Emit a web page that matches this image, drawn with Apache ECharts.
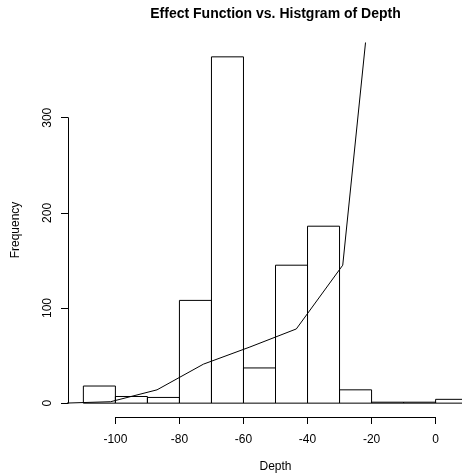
<!DOCTYPE html>
<html><head><meta charset="utf-8">
<script src="https://cdn.jsdelivr.net/npm/echarts@6/dist/echarts.min.js"></script>
<style>html,body{margin:0;padding:0;background:#fff}#c{width:462px;height:473px}</style>
</head><body><div id="c"></div>
<script>
// Histogram bins (left edges) and counts
const binStarts = [-110,-100,-90,-80,-70,-60,-50,-40,-30,-20,-10,0];
const binWidth = 10;
const counts = [18,7,6,108,364,37,145,186,14,1,1,4];
// Effect function line
const effectX = [-116,-101.5,-87,-72.5,-58,-43.5,-29,-14.5];
const effectY = [0,1.5,14,41,59,78,145,622];
// Tick labels
const xTicks = [-100,-80,-60,-40,-20,0];
const yTicks = [0,100,200,300];

const FONT = 'Liberation Sans, Arial, Helvetica, sans-serif';
const chart = echarts.init(document.getElementById('c'), null, {renderer:'canvas'});

const fullLeft = 68, fullWidth = 415;
const xMin = -114.8, xFullMax = 14.8, yMin = -14.56, yMax = 378.56;
const pxX = fullWidth/(xFullMax-xMin);
const plot = {left:fullLeft, top:43, width:462-fullLeft, height:374};
const xMax = xMin + plot.width/pxX;
const pxY = plot.height/(yMax-yMin);
const xAxisGrid = {left: plot.left + (xTicks[0]-xMin)*pxX, width:(xTicks[xTicks.length-1]-xTicks[0])*pxX, top:plot.top, height:plot.height};
const yAxisGrid = {left: plot.left, width: plot.width,
  top: plot.top + (yMax - yTicks[yTicks.length-1])*pxY,
  height: (yTicks[yTicks.length-1]-yTicks[0])*pxY};
const gridBase = {containLabel:false, outerBoundsMode:'none'};

const axisBase = {
  axisLine:{show:true, lineStyle:{color:'#000', width:1}},
  axisTick:{show:true, length:7, inside:false, lineStyle:{color:'#000', width:1}},
  splitLine:{show:false}
};

chart.setOption({
  animation:false,
  backgroundColor:'#fff',
  title:{text:'Effect Function vs. Histgram of Depth', left: fullLeft+fullWidth/2, textAlign:'center', top:7, padding:0,
    textStyle:{fontFamily:FONT, fontSize:14, fontWeight:'bold', color:'#000'}},
  grid:[
    Object.assign({}, gridBase, plot),
    Object.assign({}, gridBase, xAxisGrid),
    Object.assign({}, gridBase, yAxisGrid)
  ],
  xAxis:[
    {gridIndex:0, type:'value', min:xMin, max:xMax, axisLine:{show:false}, axisTick:{show:false}, axisLabel:{show:false}, splitLine:{show:false}},
    Object.assign({gridIndex:1, type:'value', position:'bottom', min:xTicks[0], max:xTicks[xTicks.length-1], interval:xTicks[1]-xTicks[0],
      name:'Depth', nameLocation:'middle', nameGap:44, nameTextStyle:{fontFamily:FONT, fontSize:12, color:'#000'}}, axisBase,
      {axisLabel:{color:'#000', fontFamily:FONT, fontSize:12, margin:17}}),
    {gridIndex:2, type:'value', show:false, min:0, max:1}
  ],
  yAxis:[
    {gridIndex:0, type:'value', min:yMin, max:yMax, axisLine:{show:false}, axisTick:{show:false}, axisLabel:{show:false}, splitLine:{show:false},
      name:'Frequency', nameLocation:'middle', nameGap:46, nameRotate:90, nameTextStyle:{fontFamily:FONT, fontSize:12, color:'#000'}},
    {gridIndex:1, type:'value', show:false, min:0, max:1},
    Object.assign({gridIndex:2, type:'value', position:'left', min:yTicks[0], max:yTicks[yTicks.length-1], interval:yTicks[1]-yTicks[0]}, axisBase,
      {axisLabel:{color:'#000', fontFamily:FONT, fontSize:12, rotate:90, margin:14, align:'center', verticalAlign:'bottom'}})
  ],
  series:[
    {
      type:'custom', xAxisIndex:0, yAxisIndex:0, clip:true,
      data: binStarts.map((s,i)=>[s, s+binWidth, counts[i]]),
      encode:{x:[0,1], y:2},
      renderItem:function(params, api){
        const p0 = api.coord([api.value(0), 0]);
        const p1 = api.coord([api.value(1), api.value(2)]);
        return {type:'rect', shape:{x:p0[0], y:p1[1], width:p1[0]-p0[0], height:p0[1]-p1[1]},
          style:{fill:'none', stroke:'#000', lineWidth:1}};
      }
    },
    {
      type:'line', xAxisIndex:0, yAxisIndex:0, clip:true, symbol:'none',
      data: effectX.map((x,i)=>[x, effectY[i]]),
      lineStyle:{color:'#000', width:1}
    }
  ]
});
</script></body></html>
